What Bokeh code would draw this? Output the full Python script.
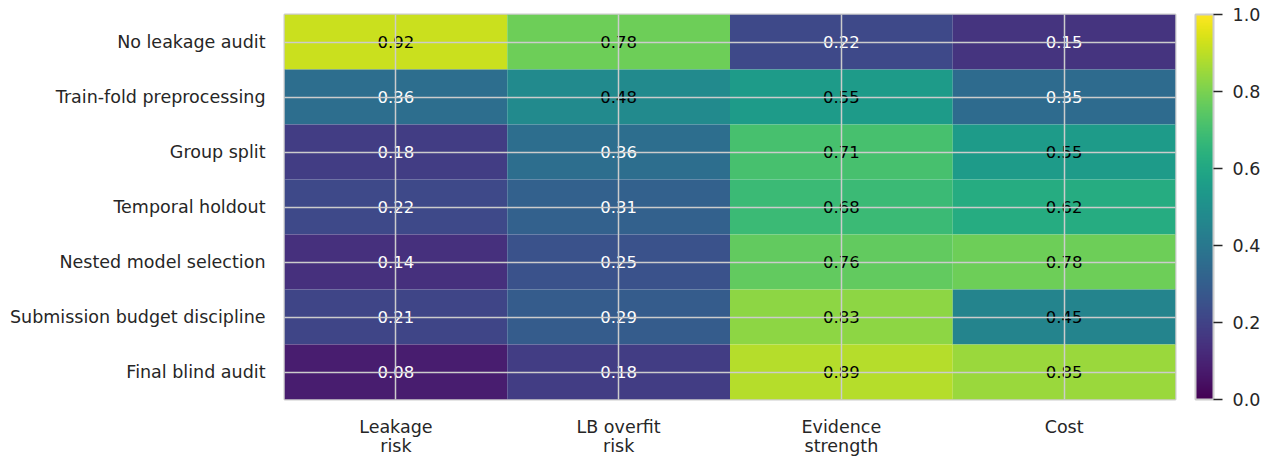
from bokeh.plotting import figure
from bokeh.models import ColumnDataSource, LinearColorMapper, ColorBar, FixedTicker, PrintfTickFormatter
from bokeh.palettes import Viridis256
from bokeh.core.properties import value
from bokeh.embed import file_html
from bokeh.resources import INLINE

rows = ["No leakage audit", "Train-fold preprocessing", "Group split", "Temporal holdout",
        "Nested model selection", "Submission budget discipline", "Final blind audit"]
cols = ["Leakage\nrisk", "LB overfit\nrisk", "Evidence\nstrength", "Cost"]

leakage_risk = [0.92, 0.36, 0.18, 0.22, 0.14, 0.21, 0.08]
lb_overfit_risk = [0.78, 0.48, 0.36, 0.31, 0.25, 0.29, 0.18]
evidence_strength = [0.22, 0.55, 0.71, 0.68, 0.76, 0.83, 0.89]
cost = [0.15, 0.35, 0.55, 0.62, 0.78, 0.45, 0.85]

cbar_ticks = [0.0, 0.2, 0.4, 0.6, 0.8, 1.0]

series = [leakage_risk, lb_overfit_risk, evidence_strength, cost]
xs, ys, vals, labels, tcolors = [], [], [], [], []
for c, s in zip(cols, series):
    for r, v in zip(rows, s):
        xs.append(c)
        ys.append(r)
        vals.append(v)
        labels.append(f"{v:.2f}")
        tcolors.append("black" if v > 0.4 else "white")

src = ColumnDataSource(dict(x=xs, y=ys, v=vals, label=labels, tc=tcolors))

FONT = "DejaVu Sans"
TXT = "#262626"
GRID = "#cccccc"

p = figure(x_range=cols, y_range=list(reversed(rows)),
           frame_width=891, frame_height=385,
           min_border_left=284, min_border_top=14, min_border_bottom=52, min_border_right=0,
           output_backend="svg", toolbar_location=None, background_fill_color="white")

mapper = LinearColorMapper(palette=Viridis256, low=0, high=1)
p.rect(x="x", y="y", width=1, height=1, source=src,
       fill_color={"field": "v", "transform": mapper}, line_color=None)

for g in (p.xgrid, p.ygrid):
    g.grid_line_color = GRID
    g.grid_line_width = 1.5
    g.level = "overlay"

p.text(x="x", y="y", text="label", source=src, text_color="tc",
       text_align="center", text_baseline="middle",
       text_font=value(FONT), text_font_size="16.5px", level="overlay")

p.outline_line_color = GRID
p.outline_line_width = 2

for ax in (p.xaxis, p.yaxis):
    ax.axis_line_color = None
    ax.major_tick_line_color = None
    ax.minor_tick_line_color = None
    ax.major_tick_out = 0
    ax.major_tick_in = 0
    ax.major_label_text_font = FONT
    ax.major_label_text_font_size = "17.5px"
    ax.major_label_text_color = TXT
    ax.major_label_text_line_height = 0.98
p.xaxis.major_label_standoff = 17
p.yaxis.major_label_standoff = 19
p.x_range.range_padding = 0
p.y_range.range_padding = 0

cb = ColorBar(color_mapper=mapper, width=18, height=385, padding=0, margin=0,
              location=(20, 0),
              ticker=FixedTicker(ticks=cbar_ticks),
              formatter=PrintfTickFormatter(format="%.1f"),
              major_label_text_font=FONT, major_label_text_font_size="17.5px",
              major_label_text_color=TXT,
              major_tick_out=9, major_tick_in=0, major_tick_line_color=TXT,
              major_tick_line_width=1.5, minor_tick_line_color=None,
              label_standoff=10,
              bar_line_color=GRID, bar_line_width=2,
              border_line_color=None, background_fill_color=None)
p.add_layout(cb, "right")

open("out.html", "w").write(file_html(p, INLINE))
